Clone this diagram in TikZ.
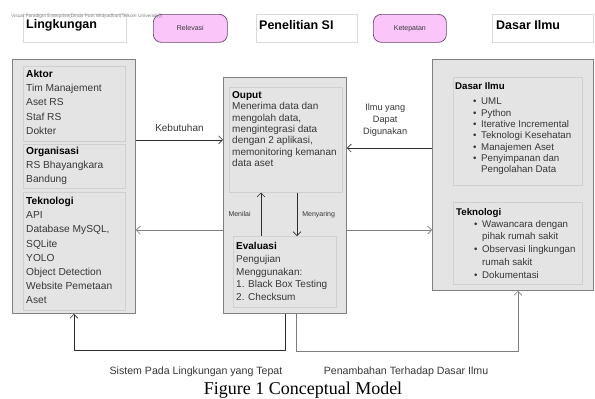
\documentclass[tikz,border=0pt]{standalone}
\usepackage{fontspec}
\setmainfont{Liberation Sans}
\newfontfamily\capfont{Liberation Serif}
\usetikzlibrary{arrows.meta,positioning,calc}
\definecolor{boxfill}{RGB}{228,228,228}
\definecolor{boxline}{RGB}{128,128,128}
\definecolor{inline}{RGB}{208,208,208}
\definecolor{hdrline}{RGB}{218,218,218}
\definecolor{pinkfill}{RGB}{250,198,250}
\definecolor{pinkline}{RGB}{105,70,105}
\definecolor{textgray}{RGB}{55,55,55}
\definecolor{darkln}{RGB}{45,45,45}
\definecolor{greyln}{RGB}{125,125,125}
\tikzset{
  outerbox/.style={draw=boxline, fill=boxfill, line width=0.9pt, anchor=north west, inner sep=0pt},
  innerbox/.style={draw=inline, fill=boxfill, line width=0.6pt, anchor=north west, inner sep=0pt},
  hdrbox/.style={draw=hdrline, fill=white, line width=0.6pt, anchor=north west, inner sep=0pt},
  pinkbox/.style={draw=pinkline, fill=pinkfill, line width=0.7pt, rounded corners=8pt,
    anchor=north west, inner sep=0pt, text=textgray, font=\fontsize{7}{8}\selectfont},
  txt/.style={anchor=north west, align=left, inner sep=0pt, text=textgray},
  hdrtxt/.style={anchor=west, inner sep=0pt, font=\fontsize{12.5}{14}\selectfont\bfseries},
  lbl/.style={inner sep=0pt, text=textgray},
  darkarrow/.style={darkln, line width=0.6pt, -{Straight Barb[length=4pt,width=8pt]}},
  greyarrow/.style={greyln, line width=0.6pt, -{Straight Barb[length=4pt,width=8pt]}},
}
\newcommand{\lftfont}{\fontsize{10.2}{14.2}\selectfont}
\newcommand{\midfont}{\fontsize{10}{11.3}\selectfont}
\newcommand{\evalfont}{\fontsize{10}{12.8}\selectfont}
\newcommand{\rgtfont}{\fontsize{9.7}{11.3}\selectfont}
\newcommand{\tekfont}{\fontsize{9.7}{12.7}\selectfont}
\newcommand{\itemdot}{\hspace*{18pt}\makebox[8pt][l]{\textbullet}}
\newcommand{\itemgap}{\hspace*{26pt}}

\begin{document}
\begin{tikzpicture}[x=1pt, y=-1pt]
  \useasboundingbox (0,0) rectangle (595,399);
  \fill[white] (0,0) rectangle (595,399);
  % header row
  \node[hdrbox, minimum width=103pt, minimum height=28pt] (hLingk) at (23,14) {};
  \node[hdrtxt] (hLingkTxt) at ([shift={(3,11)}]hLingk.north west) {Lingkungan};
  \node[pinkbox, minimum width=74pt, minimum height=28pt] (relevasi) at (153,14) {Relevasi};
  \node[hdrbox, minimum width=101pt, minimum height=28pt] (hPenel) at (256,14) {};
  \node[hdrtxt] (hPenelTxt) at ([shift={(3,11)}]hPenel.north west) {Penelitian SI};
  \node[pinkbox, minimum width=73pt, minimum height=28pt] (ketepatan) at (373,14) {Ketepatan};
  \node[hdrbox, minimum width=101pt, minimum height=28pt] (hDasar) at (492,14) {};
  \node[hdrtxt] (hDasarTxt) at ([shift={(4,11)}]hDasar.north west) {Dasar Ilmu};
  \node[anchor=west, inner sep=0pt, text=gray, font=\fontsize{4.8}{5}\selectfont] (vpNote)
    at (11,16.5) {Visual Paradigm Enterprise(Dinda Putri Widyadhari(Telkom University))};

  % Lingkungan
  \node[outerbox, minimum width=123pt, minimum height=254pt] (lingkBox) at (12,59) {};
  \node[innerbox, minimum width=102pt, minimum height=75pt] (aktor) at (23,66) {};
  \node[innerbox, minimum width=102pt, minimum height=44pt] (organ) at (23,144) {};
  \node[innerbox, minimum width=102pt, minimum height=118pt] (tekLingk) at (23,192) {};
  \node[txt, font=\lftfont] (aktorTxt) at ([shift={(3,4)}]aktor.north west)
    {\textcolor{black}{\textbf{Aktor}}\\Tim Manajement\\Aset RS\\Staf RS\\Dokter};
  \node[txt, font=\lftfont] (organTxt) at ([shift={(3,3)}]organ.north west)
    {\textcolor{black}{\textbf{Organisasi}}\\RS Bhayangkara\\Bandung};
  \node[txt, font=\lftfont] (tekLingkTxt) at ([shift={(3,5)}]tekLingk.north west)
    {\textcolor{black}{\textbf{Teknologi}}\\API\\Database MySQL,\\SQLite\\YOLO\\Object Detection\\Website Pemetaan\\Aset};

  % Penelitian SI
  \node[outerbox, minimum width=123pt, minimum height=236pt] (penelBox) at (223,77) {};
  \node[innerbox, minimum width=113pt, minimum height=105pt] (ouput) at (229,87) {};
  \node[innerbox, minimum width=103pt, minimum height=71pt] (evaluasi) at (233,236) {};
  \node[txt, font=\midfont] (ouputTxt) at ([shift={(3,4.5)}]ouput.north west)
    {\textcolor{black}{\textbf{Ouput}}\\Menerima data dan\\mengolah data,\\mengintegrasi data\\dengan 2 aplikasi,\\memonitoring kemanan\\data aset};
  \node[txt, font=\evalfont] (evalTxt) at ([shift={(3,6)}]evaluasi.north west)
    {\textcolor{black}{\textbf{Evaluasi}}\\Pengujian\\Menggunakan:\\1. Black Box Testing\\2. Checksum};

  % Dasar Ilmu
  \node[outerbox, minimum width=161pt, minimum height=231pt] (dasarBox) at (432,59) {};
  \node[innerbox, minimum width=129pt, minimum height=108pt] (ilmuDasar) at (453,77) {};
  \node[innerbox, minimum width=129pt, minimum height=82pt] (tekDasar) at (453,202) {};
  \node[txt, font=\rgtfont] (ilmuTxt) at ([shift={(2,5)}]ilmuDasar.north west)
    {\textcolor{black}{\textbf{Dasar Ilmu}}\\[4.4pt]
     \itemdot UML\\\itemdot Python\\\itemdot Iterative Incremental\\\itemdot Teknologi Kesehatan\\
     \itemdot Manajemen Aset\\\itemdot Penyimpanan dan\\\itemgap Pengolahan Data};
  \node[txt, font=\tekfont] (tekDasarTxt) at ([shift={(3,6.5)}]tekDasar.north west)
    {\textcolor{black}{\textbf{Teknologi}}\\[-1.2pt]
     \itemdot Wawancara dengan\\\itemgap pihak rumah sakit\\\itemdot Observasi lingkungan\\
     \itemgap rumah sakit\\\itemdot Dokumentasi};

  % connectors
  \coordinate (sideY) at (0,230);
  \coordinate (ilmuY) at (0,148);
  \coordinate (nilX) at (261,0);
  \coordinate (saringX) at (297,0);
  \draw[darkarrow] (lingkBox.east |- ouput.west) -- node[lbl, midway, above=8pt,
    font=\fontsize{10}{12}\selectfont] {Kebutuhan} (penelBox.west |- ouput.west);
  \draw[greyarrow] (penelBox.west |- sideY) -- (lingkBox.east |- sideY);
  \draw[greyarrow] (penelBox.east |- sideY) -- (dasarBox.west |- sideY);
  \draw[darkarrow] (dasarBox.west |- ilmuY) -- node[lbl, pos=0.55, above=11pt, align=center,
    font=\fontsize{9.2}{12}\selectfont] {Ilmu yang\\Dapat\\Digunakan} (penelBox.east |- ilmuY);
  \draw[darkarrow] (evaluasi.north -| nilX) -- node[lbl, midway, left=10pt,
    font=\fontsize{7}{8}\selectfont] {Menilai} (ouput.south -| nilX);
  \draw[darkarrow] (ouput.south -| saringX) -- node[lbl, midway, right=5pt,
    font=\fontsize{7}{8}\selectfont] {Menyaring} (evaluasi.north -| saringX);
  \draw[darkarrow] (penelBox.south) -- ++(0,36) -| (lingkBox.south);
  \draw[greyarrow] ([xshift=11pt]penelBox.south) -- ++(0,37) -| ([xshift=5pt]dasarBox.south);
  \node[lbl, font=\fontsize{10.6}{12}\selectfont] (sistemLbl) at (196,372)
    {Sistem Pada Lingkungan yang Tepat};
  \node[lbl, font=\fontsize{10.6}{12}\selectfont] (tambahLbl) at (406,372)
    {Penambahan Terhadap Dasar Ilmu};
  \node[inner sep=0pt, anchor=base, font=\capfont\fontsize{18}{20}\selectfont] (caption)
    at (303,394) {Figure 1 Conceptual Model};
\end{tikzpicture}
\end{document}
